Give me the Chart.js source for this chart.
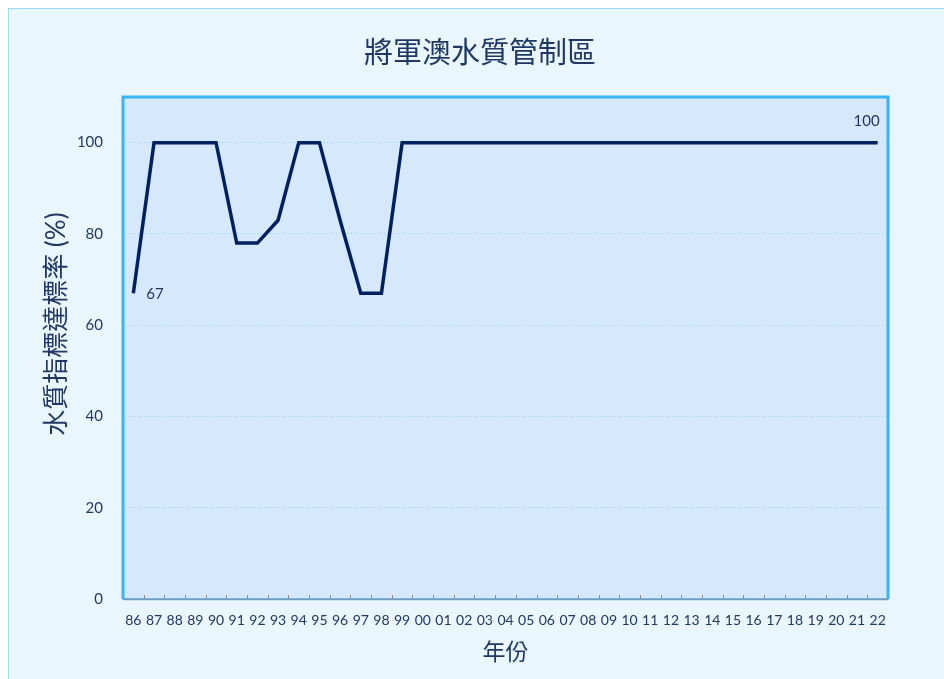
<!DOCTYPE html>
<html>
<head>
<meta charset="utf-8">
<script src="https://cdn.jsdelivr.net/npm/chart.js@4"></script>
<style>
  body { margin: 0; background: #ffffff; }
  #frame {
    position: absolute; left: 8px; top: 8px; width: 936px; height: 671px;
    background: #eaf6fe; border-left: 1px solid #9fd9f8; border-top: 1px solid #9fd9f8;
  }
  #wrap { position: absolute; left: 0; top: 0; width: 944px; height: 679px; }
</style>
</head>
<body>
<div id="frame"></div>
<div id="wrap"><canvas id="qualityChart"></canvas></div>
<script>
const years = ['86', '87', '88', '89', '90', '91', '92', '93', '94', '95', '96', '97', '98', '99',
    '00', '01', '02', '03', '04', '05', '06', '07', '08', '09', '10', '11', '12', '13', '14', '15',
    '16', '17', '18', '19', '20', '21', '22'];
const rates = [67, 100, 100, 100, 100, 78, 78, 83, 100, 100, 83, 67, 67, 100,
    100, 100, 100, 100, 100, 100, 100, 100, 100, 100, 100, 100, 100, 100, 100, 100,
    100, 100, 100, 100, 100, 100, 100];
const yTicks = [0, 20, 40, 60, 80, 100];
const chartTitle = '將軍澳水質管制區';
const yTitle = '水質指標達標率 (%)';

const navy = '#1f3864';
const latin = 'Lato, "Noto Sans CJK TC", sans-serif';
const cjk = '"Noto Sans CJK TC", sans-serif';

// plot background + blue frame + little inner tick marks on x axis
const plotArea = {
    id: 'plotArea',
    beforeDraw(chart) {
        const { ctx, chartArea: a } = chart;
        ctx.save();
        ctx.fillStyle = '#d5e8fc';
        ctx.fillRect(a.left, a.top, a.width, a.height);
        ctx.restore();
    },
    afterDatasetsDraw(chart) {
        const { ctx, chartArea: a, scales } = chart;
        const x = scales.x;
        ctx.save();
        ctx.strokeStyle = '#888888';
        ctx.lineWidth = 1;
        for (let i = 0; i <= years.length; i++) {
            const px = Math.round(x.getPixelForValue(i - 0.5)) + 0.5;
            ctx.beginPath();
            ctx.moveTo(px, a.bottom);
            ctx.lineTo(px, a.bottom - 4);
            ctx.stroke();
        }
        ctx.strokeStyle = '#3ab4f2';
        ctx.lineWidth = 3;
        ctx.beginPath();
        ctx.moveTo(a.left, a.bottom);
        ctx.lineTo(a.left, a.top);
        ctx.lineTo(a.right, a.top);
        ctx.lineTo(a.right, a.bottom);
        ctx.stroke();
        ctx.strokeStyle = '#6a9cc4';
        ctx.lineWidth = 2;
        ctx.beginPath();
        ctx.moveTo(a.left, a.bottom);
        ctx.lineTo(a.right, a.bottom);
        ctx.stroke();
        ctx.restore();
    },
    afterDraw(chart) {
        // title, centred a little right of the canvas middle like the original
        const { ctx, chartArea: a } = chart;
        ctx.save();
        ctx.fillStyle = navy;
        ctx.font = '29px ' + cjk;
        ctx.textAlign = 'center';
        ctx.textBaseline = 'middle';
        ctx.fillText(chartTitle, chart.width / 2 + 8, 52);
        // y axis title, sits a bit above the middle of the plot
        ctx.font = '26px ' + latin;
        ctx.translate(57, (a.top + a.bottom) / 2 - 24);
        ctx.rotate(-Math.PI / 2);
        ctx.fillText(yTitle, 0, 0);
        ctx.restore();
    }
};

// first and last value labels
const endLabels = {
    id: 'endLabels',
    afterDatasetsDraw(chart) {
        const { ctx } = chart;
        const pts = chart.getDatasetMeta(0).data;
        const first = pts[0], last = pts[pts.length - 1];
        ctx.save();
        ctx.fillStyle = navy;
        ctx.font = '15px ' + latin;
        ctx.textBaseline = 'middle';
        ctx.textAlign = 'left';
        ctx.fillText(String(rates[0]), first.x + 13, first.y + 1);
        ctx.textAlign = 'center';
        ctx.fillText(String(rates[rates.length - 1]), last.x - 11, last.y - 21);
        ctx.restore();
    }
};

const ctx = document.getElementById('qualityChart');
new Chart(ctx, {
    type: 'line',
    data: {
        labels: years,
        datasets: [{
            data: rates,
            borderColor: '#002060',
            borderWidth: 3.5,
            pointRadius: 0,
            tension: 0,
            fill: false
        }]
    },
    options: {
        responsive: true,
        maintainAspectRatio: false,
        animation: false,
        layout: { padding: { left: 8, right: 56, top: 97, bottom: 12 } },
        plugins: {
            legend: { display: false },
            tooltip: { enabled: false },
            title: { display: false }
        },
        scales: {
            x: {
                offset: true,
                grid: { display: false, offset: true },
                border: { display: false },
                ticks: {
                    autoSkip: false,
                    maxRotation: 0,
                    color: navy,
                    padding: 5,
                    font: { family: latin, size: 14 }
                },
                title: {
                    display: true,
                    text: '年份',
                    color: navy,
                    font: { family: cjk, size: 23, lineHeight: 1 },
                    padding: { top: 6 }
                }
            },
            y: {
                min: 0,
                max: 110,
                afterBuildTicks: (scale) => {
                    scale.ticks = yTicks.map(v => ({ value: v }));
                },
                afterFit: (scale) => {
                    scale.width = 115;
                },
                grid: {
                    color: (c) => (c.tick && c.tick.value > 0 ? '#8fd0f5' : 'rgba(0,0,0,0)'),
                    lineWidth: 1,
                    drawTicks: false
                },
                border: { display: false, dash: [1, 2] },
                ticks: {
                    color: navy,
                    padding: 20,
                    font: { family: latin, size: 15 }
                },
                title: { display: false }
            }
        }
    },
    plugins: [plotArea, endLabels]
});
</script>
</body>
</html>
